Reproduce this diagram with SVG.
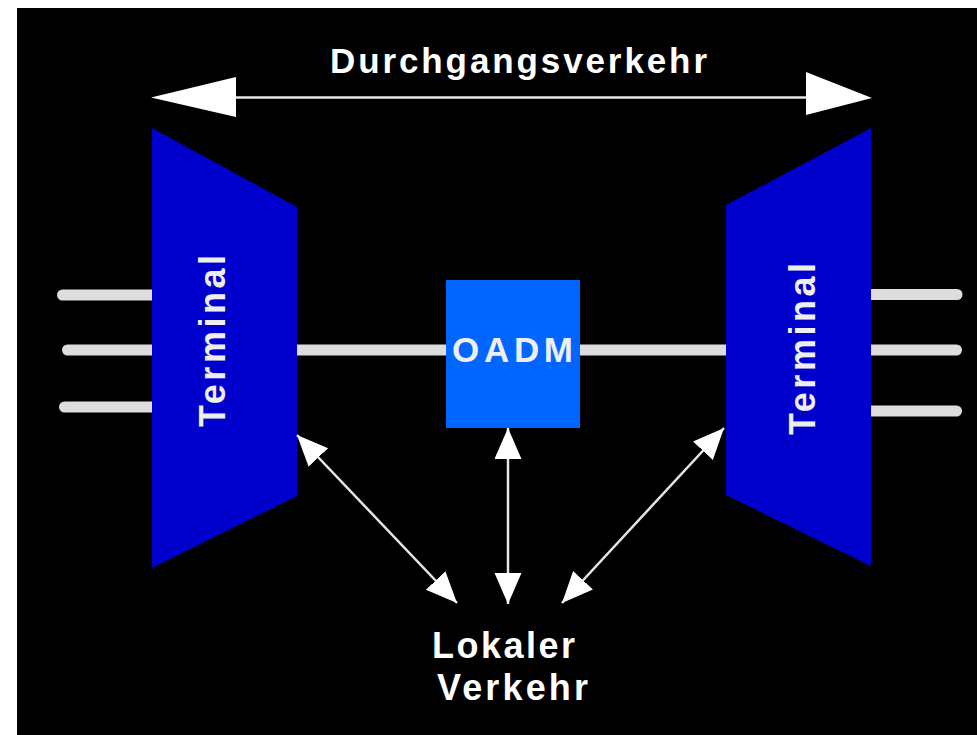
<svg xmlns="http://www.w3.org/2000/svg" width="977" height="735" viewBox="0 0 977 735">
  <defs>
    <style>
      .bg { fill: #000000; }
      .term { fill: #0000CC; }
      .oadm { fill: #0066FF; }
      .fiber { stroke: #DDDDDD; stroke-width: 11; fill: none; }
      .conn { stroke: #E6E6E6; stroke-width: 2.5; fill: none; }
      .head { fill: #FFFFFF; }
      .lbl { font-family: "Liberation Sans", Arial, sans-serif; font-weight: bold; fill: #FFFFFF; }
      .nlbl { font-family: "Liberation Sans", Arial, sans-serif; font-weight: bold; fill: #EEEEEE; }
    </style>
    <marker id="ah" markerUnits="userSpaceOnUse" markerWidth="32" markerHeight="28" refX="31" refY="13.5" orient="auto-start-reverse" viewBox="0 0 32 28">
      <path d="M0,0 L31,13.5 L0,27 Z" fill="#FFFFFF"/>
    </marker>
  </defs>

  <rect x="0" y="0" width="977" height="735" fill="#FFFFFF"/>
  <rect class="bg" x="17" y="8" width="960" height="727"/>

  <g id="fibers">
    <line class="fiber" x1="62.5" y1="295" x2="160" y2="295" stroke-linecap="round"/>
    <line class="fiber" x1="67.5" y1="350" x2="160" y2="350" stroke-linecap="round"/>
    <line class="fiber" x1="64.5" y1="407" x2="160" y2="407" stroke-linecap="round"/>
    <line class="fiber" x1="290" y1="350" x2="735" y2="350"/>
    <line class="fiber" x1="860" y1="294.5" x2="957" y2="294.5" stroke-linecap="round"/>
    <line class="fiber" x1="860" y1="350" x2="956.5" y2="350" stroke-linecap="round"/>
    <line class="fiber" x1="860" y1="411" x2="956.5" y2="411" stroke-linecap="round"/>
  </g>

  <g id="terminal-left">
    <polygon class="term" points="152,128 297,207 297,496 152,568"/>
    <text class="nlbl" font-size="36" transform="translate(225,427) rotate(-90)" x="0" y="0" textLength="172" lengthAdjust="spacing">Terminal</text>
  </g>

  <g id="terminal-right">
    <polygon class="term" points="726,205 871,128 871,566 726,495"/>
    <text class="nlbl" font-size="36" transform="translate(815,435) rotate(-90)" x="0" y="0" textLength="172" lengthAdjust="spacing">Terminal</text>
  </g>

  <g id="oadm">
    <rect class="oadm" x="446" y="280" width="134" height="148"/>
    <text class="nlbl" font-size="35" x="452" y="362" textLength="121" lengthAdjust="spacing">OADM</text>
  </g>

  <g id="title">
    <text class="lbl" font-size="35" x="330" y="73" textLength="377" lengthAdjust="spacing">Durchgangsverkehr</text>
  </g>

  <g id="local">
    <text class="lbl" font-size="36" x="432" y="658" textLength="143" lengthAdjust="spacing">Lokaler</text>
    <text class="lbl" font-size="36" x="437" y="700" textLength="151" lengthAdjust="spacing">Verkehr</text>
  </g>

  <g id="connectors">
    <line class="conn" x1="230" y1="97.5" x2="812" y2="97.5"/>
    <polygon class="head" points="151,97.5 236,77 236,117"/>
    <polygon class="head" points="872,98 806,72 806,115"/>
    <line class="conn" x1="297" y1="435" x2="457" y2="603" marker-start="url(#ah)" marker-end="url(#ah)"/>
    <line class="conn" x1="508" y1="428" x2="508" y2="604" marker-start="url(#ah)" marker-end="url(#ah)"/>
    <line class="conn" x1="724" y1="428" x2="562" y2="603" marker-start="url(#ah)" marker-end="url(#ah)"/>
  </g>
</svg>
